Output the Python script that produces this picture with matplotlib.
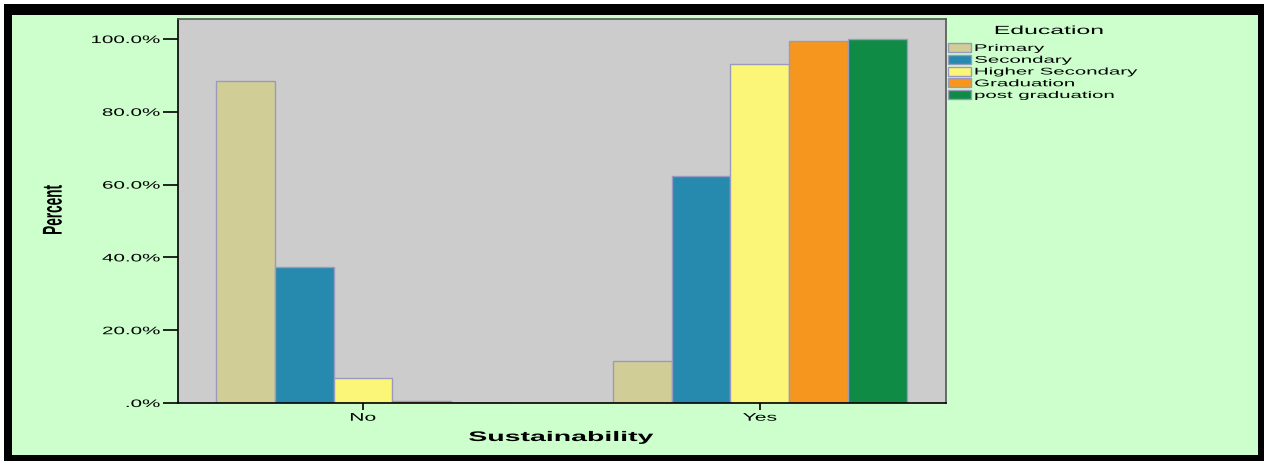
import matplotlib.pyplot as plt
import numpy as np
from matplotlib.patches import Rectangle
from matplotlib.patheffects import AbstractPathEffect
from matplotlib.transforms import Affine2D
from matplotlib.ticker import FuncFormatter

categories = ["No", "Yes"]
education = ["Primary", "Secondary", "Higher Secondary", "Graduation", "post graduation"]
primary = [88.5, 11.5]
secondary = [37.5, 62.5]
higher_secondary = [6.8, 93.2]
graduation = [0.5, 99.5]
post_graduation = [0.0, 100.0]
colors = ["#D1CD96", "#2689AE", "#FBF677", "#F7961E", "#0F8B46"]

series = [primary, secondary, higher_secondary, graduation, post_graduation]

plt.rcParams['font.family'] = ['Liberation Sans', 'DejaVu Sans']


class Stretch(AbstractPathEffect):
    """Widen text horizontally around its left, right or centre edge."""

    def __init__(self, sx=2.0, anchor="left"):
        super().__init__()
        self.sx = sx
        self.anchor = anchor

    def draw_path(self, renderer, gc, tpath, affine, rgbFace=None):
        ext = tpath.get_extents(affine)
        if self.anchor == "left":
            x0 = ext.x0
        elif self.anchor == "right":
            x0 = ext.x1
        else:
            x0 = (ext.x0 + ext.x1) / 2
        t = affine + Affine2D().translate(-x0, 0).scale(self.sx, 1).translate(x0, 0)
        renderer.draw_path(gc, tpath, t, rgbFace)


fig = plt.figure(figsize=(12.64, 4.61), dpi=100)
fig.patch.set_facecolor("white")

# black frame with green panel inside
W, H = 1264, 461
fig.patches.append(Rectangle((4 / W, 0), (W - 4) / W, (H - 4) / H,
                             transform=fig.transFigure, facecolor="black",
                             edgecolor="none", zorder=-2))
fig.patches.append(Rectangle((12 / W, (H - 455) / H), (1258 - 12) / W, (455 - 15) / H,
                             transform=fig.transFigure, facecolor="#CCFFCC",
                             edgecolor="none", zorder=-1))

ax = fig.add_axes([178 / W, (H - 403) / H, (946 - 178) / W, (403 - 19) / H])
ax.set_facecolor("#CCCCCC")

x = np.arange(len(categories))
w = 0.148
for i, (vals, c, name) in enumerate(zip(series, colors, education)):
    ax.bar(x + (i - 2) * w, vals, width=w, color=c, edgecolor="#9A9AC0",
           linewidth=1.0, label=name, zorder=2)

ax.set_xlim(-0.466, 1.469)
ax.set_ylim(0, 105.5)
ax.set_yticks([0, 20, 40, 60, 80, 100])
ax.yaxis.set_major_formatter(FuncFormatter(lambda v, p: ".0%" if v == 0 else f"{v:.1f}%"))
ax.set_xticks(x)
ax.set_xticklabels(categories)
ax.tick_params(axis="y", labelsize=7.8, length=11, width=1.2, color="black", pad=2)
ax.tick_params(axis="x", labelsize=8, length=5, width=1.2, color="black", pad=2)

for lab in ax.get_yticklabels():
    lab.set_path_effects([Stretch(1.9, "right")])
for lab in ax.get_xticklabels():
    lab.set_path_effects([Stretch(1.9, "center")])

for s in ["left", "bottom"]:
    ax.spines[s].set_color("black")
    ax.spines[s].set_linewidth(1.2)
for s in ["top", "right"]:
    ax.spines[s].set_color("#555555")
    ax.spines[s].set_linewidth(1.2)

ylab = fig.text(53 / W, 1 - 210 / H, "Percent", rotation=90, fontsize=9.8,
                fontweight="bold", ha="center", va="center")
ylab.set_path_effects([Stretch(2.0, "center")])
xlab = fig.text(561 / W, 1 - 437 / H, "Sustainability", fontsize=10,
                fontweight="bold", ha="center", va="center")
xlab.set_path_effects([Stretch(2.05, "center")])

leg = ax.legend(loc="upper left", bbox_to_anchor=(948 / W, 1 - 43 / H),
                bbox_transform=fig.transFigure, frameon=False, fontsize=7,
                handlelength=2.4, handleheight=1.05, handletextpad=0.35,
                labelspacing=0.18, borderpad=0, borderaxespad=0)
for t in leg.get_texts():
    t.set_path_effects([Stretch(2.1, "left")])
for p in leg.get_patches():
    p.set_edgecolor("#9A9AC0")

title = fig.text(1049 / W, 1 - 31 / H, "Education", fontsize=8.5,
                 ha="center", va="center")
title.set_path_effects([Stretch(2.1, "center")])

fig.savefig("out.png", dpi=100, facecolor=fig.get_facecolor())
